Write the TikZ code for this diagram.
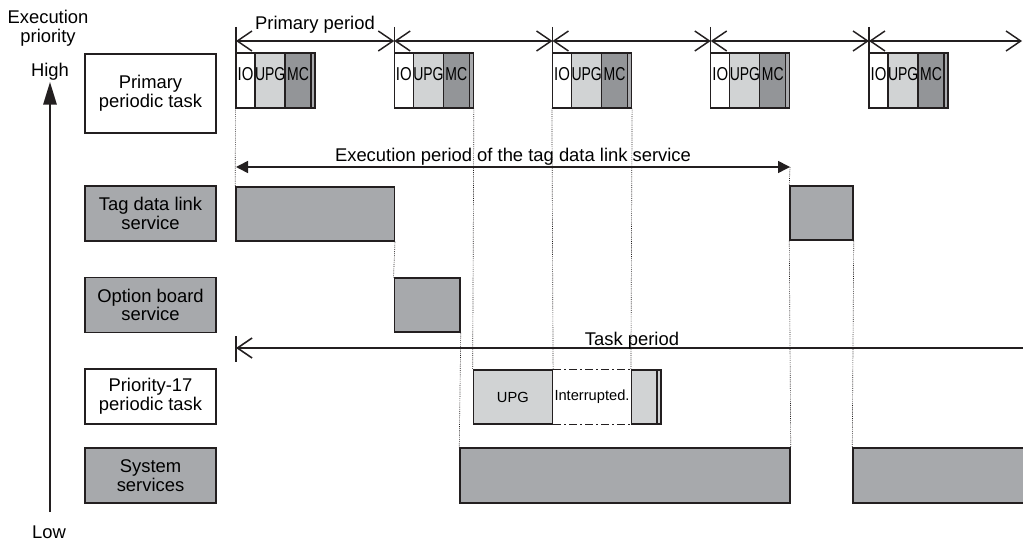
\documentclass[tikz,border=0pt]{standalone}
\usepackage{fontspec}
\setmainfont{Liberation Sans}
\usepackage{graphicx}
\usepackage{tikz}
\usetikzlibrary{arrows.meta, positioning, fit}
\definecolor{mydark}{RGB}{35,31,32}
\definecolor{bargray}{RGB}{167,169,172}
\definecolor{upggray}{RGB}{209,211,212}
\definecolor{mcgray}{RGB}{147,149,152}
\tikzset{
  lblbox/.style={rectangle, draw=mydark, fill=white, line width=1.1pt,
    minimum width=98.25pt, minimum height=41.25pt, align=center,
    inner sep=0pt, font=\fontsize{13.8}{14}\selectfont},
  graybox/.style={lblbox, fill=bargray},
  bar/.style={rectangle, draw=mydark, fill=bargray, line width=1.1pt, inner sep=0pt},
  seg/.style={rectangle, draw=mydark, line width=0.9pt, inner sep=0pt,
    font=\fontsize{14}{14}\selectfont},
  smalltxt/.style={font=\fontsize{11}{11}\selectfont, inner sep=0pt},
  plaintxt/.style={font=\fontsize{13.8}{14}\selectfont, align=center, inner sep=0pt},
  guide/.style={mydark, line width=0.5pt, dash pattern=on 0.6pt off 0.8pt},
  dashdot/.style={mydark, line width=0.8pt, dash pattern=on 6pt off 2.5pt on 1pt off 2.5pt},
  tick/.style={mydark, line width=1pt},
  periodarrow/.style={{Straight Barb[length=11pt,width=15pt]}-{Straight Barb[length=11pt,width=15pt]},
    line width=1.1pt, color=mydark},
  execarrow/.style={{Triangle[length=9pt,width=9pt]}-{Triangle[length=9pt,width=9pt]},
    line width=1.2pt, color=mydark},
  taskarrow/.style={{Straight Barb[length=11pt,width=15pt]}-, line width=1.2pt, color=mydark},
  prioarrow/.style={-{Triangle[length=17pt,width=10pt]}, line width=1.5pt, color=mydark}
}

\begin{document}
\begin{tikzpicture}[x=0.75pt, y=-0.75pt]
  \useasboundingbox (0,0) rectangle (1023,541);
  % Priority axis
  \node[plaintxt] (execprio) at (48,28) {Execution\\priority};
  \node[plaintxt] (high) at (50,72) {High};
  \node[plaintxt] (low) at (49,532) {Low};
  \coordinate (axlo) at (50,512);
  \coordinate (axhi) at (50,82);
  \draw[prioarrow] (axlo) -- (axhi);
  % Task labels
  \node[lblbox, minimum height=59.25pt] (lprim) at (150.5,93.5) {Primary\\periodic task};
  \node[graybox] (ltag) at (150.5,213.5) {Tag data link\\service};
  \node[graybox] (lopt) at (150.5,305) {Option board\\service};
  \node[lblbox] (lp17) at (150.5,396.5) {Priority-17\\periodic task};
  \node[graybox] (lsys) at (150.5,475.5) {System\\services};
  % Primary periods and primary periodic task
  \node[plaintxt, anchor=base] (primlbl) at (315,30) {Primary period};
  \foreach \x/\xe [count=\k] in {236/394.25, 394.25/552.5, 552.5/710.75, 710.75/869, 869/1022}{
    \coordinate (ps\k) at (\x,41);
    \coordinate (pe\k) at (\xe,41);
    \draw[tick] (\x,27) -- (\x,53);
    \draw[periodarrow] (ps\k) -- (pe\k);
    \node[seg, fill=white, fit={(\x,53) (\x+19,108)}] (io\k) {\scalebox{0.8}[1]{IO}};
    \node[seg, fill=upggray, fit={(\x+19,53) (\x+49,108)}] (upg\k) {\scalebox{0.75}[1]{UPG}};
    \node[seg, fill=mcgray, fit={(\x+49,53) (\x+75,108)}] (mc\k) {\scalebox{0.75}[1]{MC}};
    \node[seg, fill=mcgray!80, fit={(\x+75,53) (\x+79,108)}] (strip\k) {};
  }
  % Tag data link service
  \coordinate (ex0) at (236,167);
  \coordinate (ex1) at (790,167);
  \draw[execarrow] (ex0) -- (ex1);
  \node[plaintxt, anchor=base] (exlbl) at (513,162) {Execution period of the tag data link service};
  \node[bar, fit={(236,187) (394.25,241)}] (tag1) {};
  \node[bar, fit={(790,186) (853,240)}] (tag2) {};
  % Option board service
  \node[bar, fit={(394.25,278) (460,332)}] (opt) {};
  % Task period
  \coordinate (tp0) at (236,348);
  \coordinate (tp1) at (1030,348);
  \draw[tick] (236,336) -- (236,362);
  \draw[taskarrow] (tp0) -- (tp1);
  \node[plaintxt, anchor=base] (tplbl) at (632,345) {Task period};
  % Priority-17 periodic task
  \node[seg, fill=upggray, fit={(473.25,370) (552.5,424)}] (upg17) {};
  \node[smalltxt] at (upg17) {UPG};
  \node[seg, fill=upggray, fit={(631.5,370) (657,424)}] (tail17) {};
  \node[seg, fill=upggray, fit={(657,370) (661,424)}] (strip17) {};
  \draw[dashdot] (upg17.north east) -- (tail17.north west);
  \draw[dashdot] (upg17.south east) -- (tail17.south west);
  \node[smalltxt] (intr) at (592,397) {Interrupted.};
  % System services
  \node[bar, fit={(460,448) (790,503)}] (sys1) {};
  \node[bar, fit={(853,448) (1035,503)}] (sys2) {};
  % Guide lines
  \draw[guide] (io1.south west) -- (tag1.north west);
  \draw[guide] (tag1.south east) -- (opt.north west);
  \draw[guide] (opt.south east) -- (sys1.north west);
  \draw[guide] (strip2.south east) -- (upg17.north west);
  \draw[guide] (io3.south west) -- (upg17.north east);
  \draw[guide] (strip3.south east) -- (tail17.north west);
  \draw[guide] (ex1) -- (tag2.north west);
  \draw[guide] (tag2.south west) -- (sys1.north east);
  \draw[guide] (tag2.south east) -- (sys2.north west);
\end{tikzpicture}
\end{document}
